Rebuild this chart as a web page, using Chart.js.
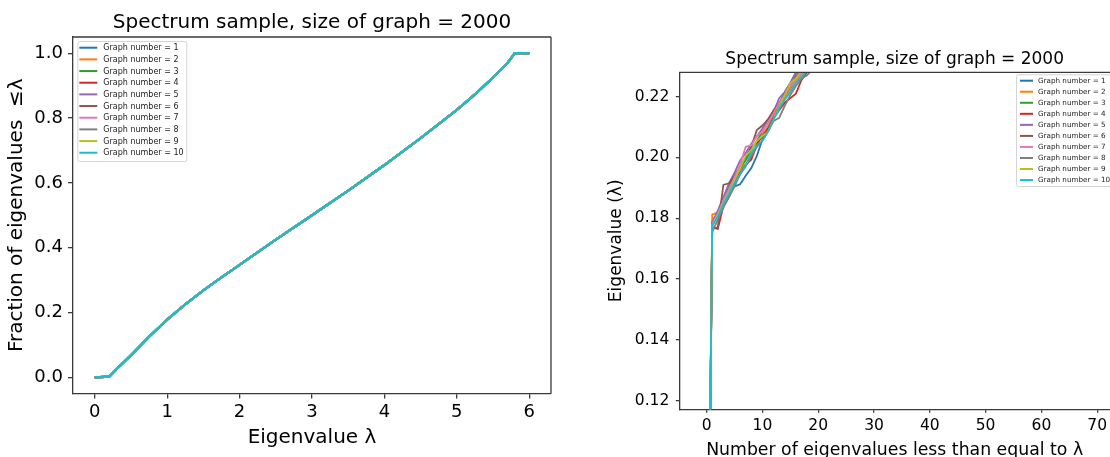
<!DOCTYPE html>
<html>
<head>
<meta charset="utf-8">
<script src="https://cdn.jsdelivr.net/npm/chart.js@4.4.0/dist/chart.umd.min.js"></script>
<style>
    html, body { margin: 0; padding: 0; background: #fff; overflow: hidden; }
    #cdfChart { position: absolute; left: 0; top: 0; }
    #rankChart { position: absolute; left: 600px; top: 0; }
</style>
</head>
<body>
<canvas id="cdfChart" width="580" height="457"></canvas>
<canvas id="rankChart" width="510" height="457"></canvas>
<script>
"use strict";

// ---- data ----
const graphLabels = ['Graph number = 1', 'Graph number = 2', 'Graph number = 3', 'Graph number = 4', 'Graph number = 5',
    'Graph number = 6', 'Graph number = 7', 'Graph number = 8', 'Graph number = 9', 'Graph number = 10'];
const graphColors = ['#1f77b4', '#ff7f0e', '#2ca02c', '#d62728', '#9467bd',
    '#8c564b', '#e377c2', '#7f7f7f', '#bcbd22', '#17becf'];

// cumulative spectrum (same for every sampled graph at this size)
const lambdaGrid = [0, 0.2, 0.3, 0.5, 0.75, 1.0, 1.25, 1.5, 1.75, 2.0, 2.5, 3.0, 3.5, 4.0, 4.5, 5.0, 5.25, 5.5, 5.7, 5.8, 6.0];
const fractionBelow = [0, 0.002, 0.025, 0.068, 0.125, 0.178, 0.225, 0.268, 0.308, 0.347, 0.425, 0.500, 0.576, 0.655, 0.738, 0.825, 0.873, 0.925, 0.970, 1.0, 1.0];
const cdfTicksX = [0, 1, 2, 3, 4, 5, 6];
const cdfTicksY = [0, 0.2, 0.4, 0.6, 0.8, 1.0];

// smallest eigenvalues, sorted, per graph
const eigenRank = [0, 1, 2, 3, 4, 5, 6, 7, 8, 9, 10, 11, 12, 13, 14, 15, 16, 17, 18, 19];
const graph1Eigs = [0, 0.1790, 0.1820, 0.1860, 0.1890, 0.1905, 0.1912, 0.1940, 0.1965, 0.2005, 0.2060, 0.2100, 0.2135, 0.2175, 0.2215, 0.2245, 0.2280, 0.2305, 0.2330, 0.2350];
const graph2Eigs = [0, 0.1812, 0.1820, 0.1855, 0.1890, 0.1925, 0.1960, 0.1978, 0.1992, 0.2040, 0.2075, 0.2100, 0.2135, 0.2165, 0.2195, 0.2225, 0.2250, 0.2272, 0.2292, 0.2310];
const graph3Eigs = [0, 0.1785, 0.1820, 0.1865, 0.1905, 0.1940, 0.1965, 0.1990, 0.2025, 0.2055, 0.2085, 0.2115, 0.2145, 0.2175, 0.2205, 0.2235, 0.2265, 0.2290, 0.2310, 0.2330];
const graph4Eigs = [0, 0.1770, 0.1765, 0.1840, 0.1870, 0.1920, 0.1950, 0.1975, 0.1995, 0.2045, 0.2070, 0.2095, 0.2130, 0.2155, 0.2180, 0.2195, 0.2210, 0.2255, 0.2280, 0.2300];
const graph5Eigs = [0, 0.1785, 0.1825, 0.1870, 0.1915, 0.1950, 0.1990, 0.2015, 0.2045, 0.2070, 0.2095, 0.2125, 0.2150, 0.2195, 0.2215, 0.2245, 0.2275, 0.2295, 0.2315, 0.2335];
const graph6Eigs = [0, 0.1765, 0.1770, 0.1910, 0.1915, 0.1940, 0.1970, 0.2000, 0.2035, 0.2090, 0.2105, 0.2125, 0.2155, 0.2180, 0.2205, 0.2235, 0.2265, 0.2285, 0.2305, 0.2325];
const graph7Eigs = [0, 0.1780, 0.1815, 0.1860, 0.1895, 0.1935, 0.1975, 0.2035, 0.2040, 0.2070, 0.2085, 0.2115, 0.2145, 0.2180, 0.2205, 0.2235, 0.2255, 0.2280, 0.2300, 0.2320];
const graph8Eigs = [0, 0.1755, 0.1795, 0.1835, 0.1870, 0.1905, 0.1945, 0.1970, 0.2005, 0.2035, 0.2055, 0.2085, 0.2120, 0.2130, 0.2170, 0.2205, 0.2235, 0.2260, 0.2270, 0.2290];
const graph9Eigs = [0, 0.1775, 0.1810, 0.1850, 0.1885, 0.1925, 0.1965, 0.2005, 0.2025, 0.2055, 0.2070, 0.2085, 0.2125, 0.2165, 0.2205, 0.2245, 0.2260, 0.2285, 0.2305, 0.2325];
const graph10Eigs = [0, 0.1775, 0.1805, 0.1845, 0.1880, 0.1915, 0.1945, 0.1975, 0.2015, 0.2040, 0.2055, 0.2085, 0.2125, 0.2160, 0.2190, 0.2215, 0.2245, 0.2265, 0.2285, 0.2305];
const rankTicksX = [0, 10, 20, 30, 40, 50, 60, 70];
const rankTicksY = [0.12, 0.14, 0.16, 0.18, 0.20, 0.22];

const FONT = '"DejaVu Sans", sans-serif';
const SPINE = '#3a3a3a';

// top / right spines (left and bottom come from the scale borders)
const axesFrame = {
    id: 'axesFrame',
    afterDatasetsDraw(chart, args, opts) {
        let { ctx, chartArea: a } = chart;
        ctx.save();
        ctx.strokeStyle = SPINE;
        ctx.lineWidth = 1.3;
        ctx.beginPath();
        ctx.moveTo(a.left, a.top);
        ctx.lineTo(a.right, a.top);
        if (opts.right) {
            ctx.moveTo(a.right, a.top);
            ctx.lineTo(a.right, a.bottom);
        }
        ctx.stroke();
        ctx.restore();
    }
};

// matplotlib-style boxed legend inside the axes
const boxLegend = {
    id: 'boxLegend',
    afterDraw(chart, args, o) {
        let { ctx, chartArea: a } = chart;
        let sets = chart.data.datasets;
        let x = o.fromRight ? a.right - o.offsetX : a.left + o.offsetX;
        let y = a.top + o.offsetY;
        let h = o.padTop + o.rowGap * (sets.length - 1) + o.padBottom;
        ctx.save();
        ctx.fillStyle = 'rgba(255,255,255,0.85)';
        ctx.strokeStyle = '#d4d4d4';
        ctx.lineWidth = 1;
        ctx.beginPath();
        ctx.roundRect(x + 0.5, y + 0.5, o.width, h, 2);
        ctx.fill();
        ctx.stroke();
        ctx.font = o.fontSize + 'px ' + FONT;
        ctx.textBaseline = 'middle';
        ctx.textAlign = 'left';
        sets.forEach((ds, i) => {
            let cy = y + o.padTop + i * o.rowGap;
            ctx.strokeStyle = ds.borderColor;
            ctx.lineWidth = 2;
            ctx.beginPath();
            ctx.moveTo(x + o.lineStart, cy);
            ctx.lineTo(x + o.lineStart + o.lineLen, cy);
            ctx.stroke();
            ctx.fillStyle = '#222';
            ctx.fillText(ds.label, x + o.textStart, cy + 0.5);
        });
        ctx.restore();
    }
};

function fixedTicks(values) {
    return axis => { axis.ticks = values.map(v => ({ value: v })); };
}

function fixedSize(prop, size) {
    return axis => {
        axis[prop] = size;
        axis.paddingLeft = 0; axis.paddingRight = 0;
        axis.paddingTop = 0; axis.paddingBottom = 0;
    };
}

function axisStyle(tickLen) {
    return {
        grid: { drawOnChartArea: false, drawTicks: true, tickLength: tickLen, color: SPINE, lineWidth: 1.3 },
        border: { display: true, color: SPINE, width: 1.3 }
    };
}

// later graphs are painted over earlier ones
const drawOrder = i => graphLabels.length - i;

// ---- left: fraction of eigenvalues below lambda ----
let cdfSets = graphLabels.map((label, i) => ({
    label: label,
    data: lambdaGrid.map((l, k) => ({ x: l, y: fractionBelow[k] })),
    borderColor: graphColors[i],
    backgroundColor: graphColors[i],
    borderWidth: 2.2,
    pointRadius: 0,
    tension: 0,
    fill: false,
    order: drawOrder(i)
}));

new Chart(document.getElementById('cdfChart').getContext('2d'), {
    type: 'line',
    data: { datasets: cdfSets },
    plugins: [axesFrame, boxLegend],
    options: {
        responsive: false,
        animation: false,
        layout: { padding: { left: 0, right: 29, top: 0, bottom: 0 } },
        plugins: {
            legend: { display: false },
            tooltip: { enabled: false },
            title: {
                display: true, fullSize: false,
                text: 'Spectrum sample, size of graph = 2000',
                color: '#000', font: { family: FONT, size: 20, weight: 'normal' },
                padding: { top: 10.4, bottom: 2.6 }
            },
            axesFrame: { right: true },
            boxLegend: {
                fromRight: false, offsetX: 4.3, offsetY: 4, width: 109,
                padTop: 6.7, rowGap: 11.67, padBottom: 8.3,
                lineStart: 2, lineLen: 18, textStart: 26, fontSize: 8
            }
        },
        scales: {
            x: {
                type: 'linear', min: -0.3, max: 6.3,
                ...axisStyle(5),
                afterBuildTicks: fixedTicks(cdfTicksX),
                afterFit: fixedSize('height', 63.5),
                ticks: { color: '#000', padding: 2.6, font: { family: FONT, size: 18 }, callback: v => String(v) },
                title: { display: true, text: 'Eigenvalue λ', color: '#000', font: { family: FONT, size: 20 }, padding: { top: 0, bottom: 7.6 } }
            },
            y: {
                type: 'linear', min: -0.05, max: 1.05,
                ...axisStyle(5),
                afterBuildTicks: fixedTicks(cdfTicksY),
                afterFit: fixedSize('width', 73),
                ticks: { color: '#000', padding: 5, font: { family: FONT, size: 18 }, callback: v => v.toFixed(1) },
                title: { display: true, text: 'Fraction of eigenvalues  ≤λ', color: '#000', font: { family: FONT, size: 20 }, padding: { top: 5.1, bottom: 0 } }
            }
        }
    }
});

// ---- right: sorted smallest eigenvalues ----
let rankSeries = [graph1Eigs, graph2Eigs, graph3Eigs, graph4Eigs, graph5Eigs,
    graph6Eigs, graph7Eigs, graph8Eigs, graph9Eigs, graph10Eigs];
let rankSets = rankSeries.map((eigs, i) => ({
    label: graphLabels[i],
    data: eigs.map((v, k) => ({ x: eigenRank[k], y: v })),
    borderColor: graphColors[i],
    backgroundColor: graphColors[i],
    borderWidth: 1.8,
    pointRadius: 0,
    tension: 0,
    fill: false,
    clip: 0,
    order: drawOrder(i)
}));

new Chart(document.getElementById('rankChart').getContext('2d'), {
    type: 'line',
    data: { datasets: rankSets },
    plugins: [axesFrame, boxLegend],
    options: {
        responsive: false,
        animation: false,
        layout: { padding: 0 },
        plugins: {
            legend: { display: false },
            tooltip: { enabled: false },
            title: {
                display: true, fullSize: false,
                text: 'Spectrum sample, size of graph = 2000',
                color: '#000', font: { family: FONT, size: 17, weight: 'normal' },
                padding: { top: 48.9, bottom: 3.0 }
            },
            axesFrame: { right: false },
            boxLegend: {
                fromRight: true, offsetX: 94, offsetY: 2, width: 110,
                padTop: 6.4, rowGap: 11.04, padBottom: 6,
                lineStart: 4, lineLen: 13, textStart: 22, fontSize: 7.2
            }
        },
        scales: {
            x: {
                type: 'linear', min: -4.9, max: 72.3,
                ...axisStyle(3.5),
                afterBuildTicks: fixedTicks(rankTicksX),
                afterFit: fixedSize('height', 47.7),
                ticks: { color: '#000', padding: 3.8, font: { family: FONT, size: 15.5 }, callback: v => String(v) },
                title: { display: true, text: 'Number of eigenvalues less than equal to λ', color: '#000', font: { family: FONT, size: 17.3 }, padding: { top: 0, bottom: -3.5 } }
            },
            y: {
                type: 'linear', min: 0.1172, max: 0.228,
                ...axisStyle(3.5),
                afterBuildTicks: fixedTicks(rankTicksY),
                afterFit: fixedSize('width', 79.3),
                ticks: { color: '#000', padding: 6.5, font: { family: FONT, size: 15.5 }, callback: v => v.toFixed(2) },
                title: { display: true, text: 'Eigenvalue (λ)', color: '#000', font: { family: FONT, size: 17 }, padding: { top: 6.8, bottom: 0 } }
            }
        }
    }
});
</script>
</body>
</html>
